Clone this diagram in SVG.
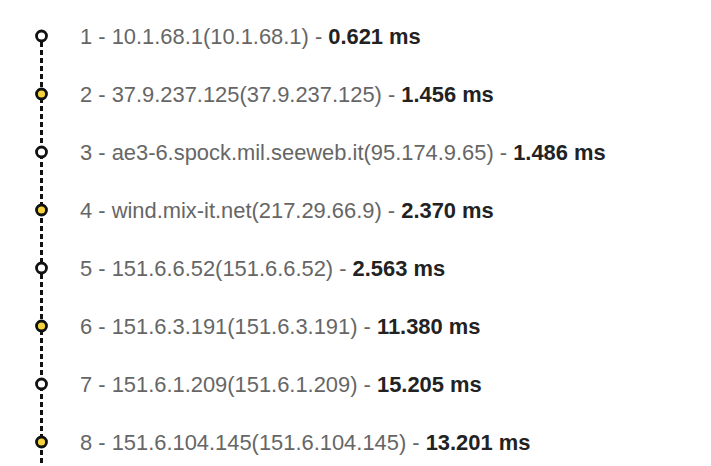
<svg xmlns="http://www.w3.org/2000/svg" width="711" height="466" viewBox="0 0 711 466">
<style>
.t{font-family:"Liberation Sans",Arial,sans-serif;font-size:21.9px;fill:#666}
.b{font-weight:bold;fill:#222}
.n{stroke:#111;stroke-width:2.8}
.o{fill:#fff}
.y{fill:#f5d33b}
.line{stroke:#111;stroke-width:3;stroke-dasharray:5 3;fill:none}
</style>
<rect width="711" height="466" fill="#fff"/>
<g id="connectors">
<line class="line" x1="41.5" y1="42" x2="41.5" y2="466"/>
</g>
<g id="hop1"><circle class="n o" cx="41.5" cy="36" r="5"/><text class="t" x="80" y="44">1 - 10.1.68.1(10.1.68.1) - <tspan class="b">0.621 ms</tspan></text></g>
<g id="hop2"><circle class="n y" cx="41.5" cy="94" r="5"/><text class="t" x="80" y="102">2 - 37.9.237.125(37.9.237.125) - <tspan class="b">1.456 ms</tspan></text></g>
<g id="hop3"><circle class="n o" cx="41.5" cy="152" r="5"/><text class="t" x="80" y="160">3 - ae3-6.spock.mil.seeweb.it(95.174.9.65) - <tspan class="b">1.486 ms</tspan></text></g>
<g id="hop4"><circle class="n y" cx="41.5" cy="210" r="5"/><text class="t" x="80" y="218">4 - wind.mix-it.net(217.29.66.9) - <tspan class="b">2.370 ms</tspan></text></g>
<g id="hop5"><circle class="n o" cx="41.5" cy="268" r="5"/><text class="t" x="80" y="276">5 - 151.6.6.52(151.6.6.52) - <tspan class="b">2.563 ms</tspan></text></g>
<g id="hop6"><circle class="n y" cx="41.5" cy="326" r="5"/><text class="t" x="80" y="334">6 - 151.6.3.191(151.6.3.191) - <tspan class="b">11.380 ms</tspan></text></g>
<g id="hop7"><circle class="n o" cx="41.5" cy="384" r="5"/><text class="t" x="80" y="392">7 - 151.6.1.209(151.6.1.209) - <tspan class="b">15.205 ms</tspan></text></g>
<g id="hop8"><circle class="n y" cx="41.5" cy="442" r="5"/><text class="t" x="80" y="450">8 - 151.6.104.145(151.6.104.145) - <tspan class="b">13.201 ms</tspan></text></g>
</svg>
